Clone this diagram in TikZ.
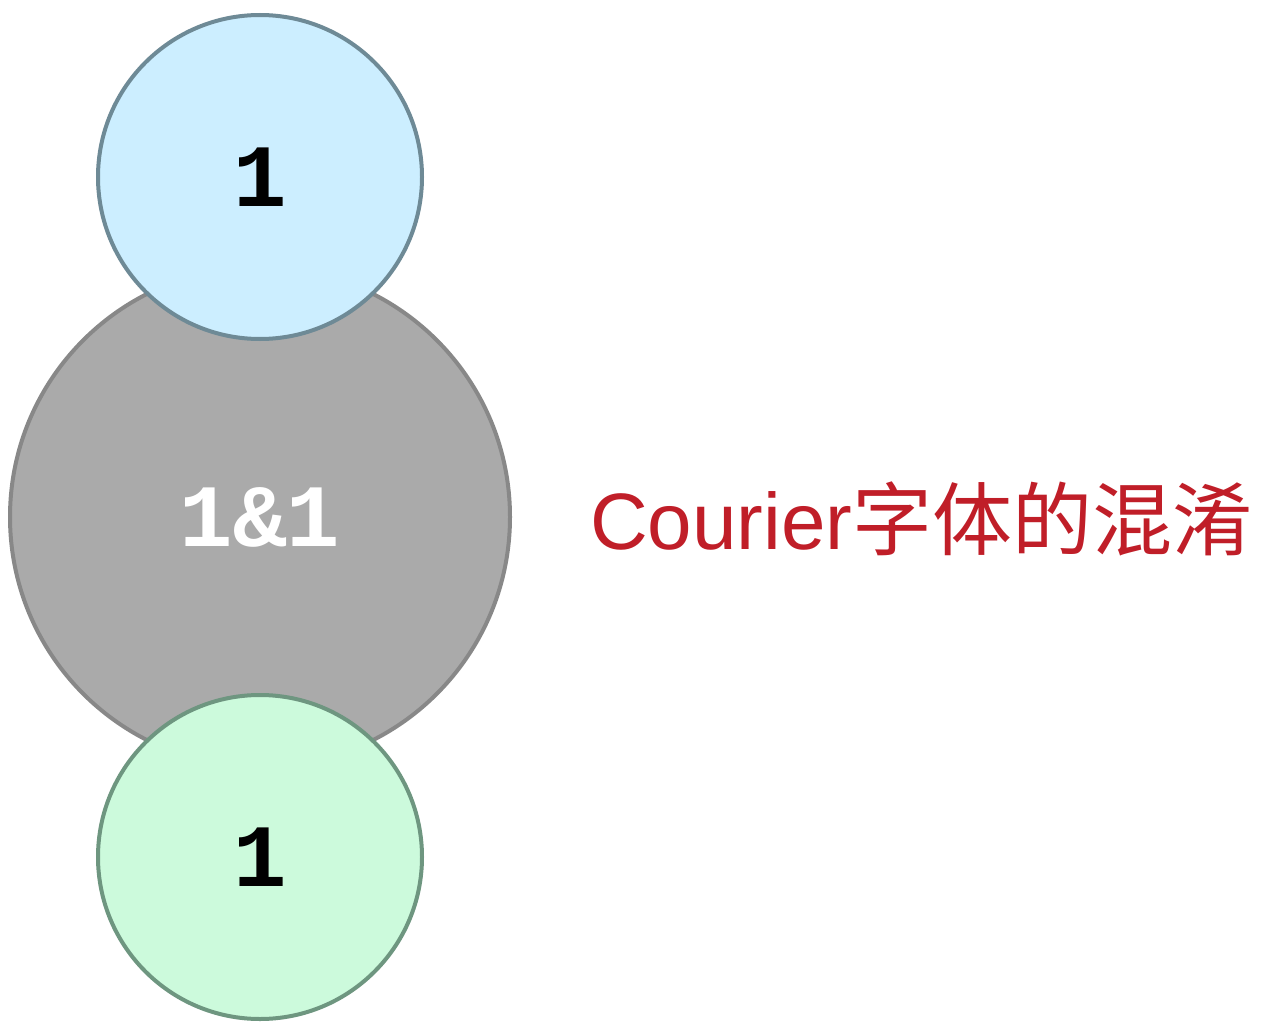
\documentclass[tikz,border=0pt]{standalone}
\usepackage{fontspec}
\setmainfont{Liberation Sans}
\newfontfamily\codefont{Liberation Mono}
\newfontfamily\cjk{Noto Sans CJK SC}
\usetikzlibrary{positioning}

\definecolor{topfill}{HTML}{CCEEFF}
\definecolor{topline}{HTML}{6E8A96}
\definecolor{midfill}{HTML}{AAAAAA}
\definecolor{midline}{HTML}{888888}
\definecolor{lowfill}{HTML}{CCFADC}
\definecolor{lowline}{HTML}{6E9680}
\definecolor{notered}{HTML}{C01E28}

\begin{document}
\begin{tikzpicture}[
            x=1pt, y=1pt,
            ball/.style={circle, line width=4pt, inner sep=0pt},
            small/.style={ball, minimum size=324pt},
            digit/.style={font=\codefont\bfseries\fontsize{89}{89}\selectfont},
            note/.style={text=notered, inner sep=0pt, anchor=west, font=\fontsize{80}{80}\selectfont},
        ]
            \useasboundingbox (0,0) rectangle (1280,-1030);

            % Draw the big circle first
            \node[ball, minimum size=500pt, fill=midfill, draw=midline, digit, text=white] (M-0) at (260,-517) {1\&1};

            % Draw the two small circles on top
            \node[small, fill=topfill, draw=topline, digit] (T-0) at (260,-177) {1};
            \node[small, fill=lowfill, draw=lowline, digit] (B-0) at (260,-857) {1};

            % The caption on the right
            \node[note] (N-0) at (590,-519) {Courier{\cjk 字体的混淆}};
        \end{tikzpicture}
\end{document}
